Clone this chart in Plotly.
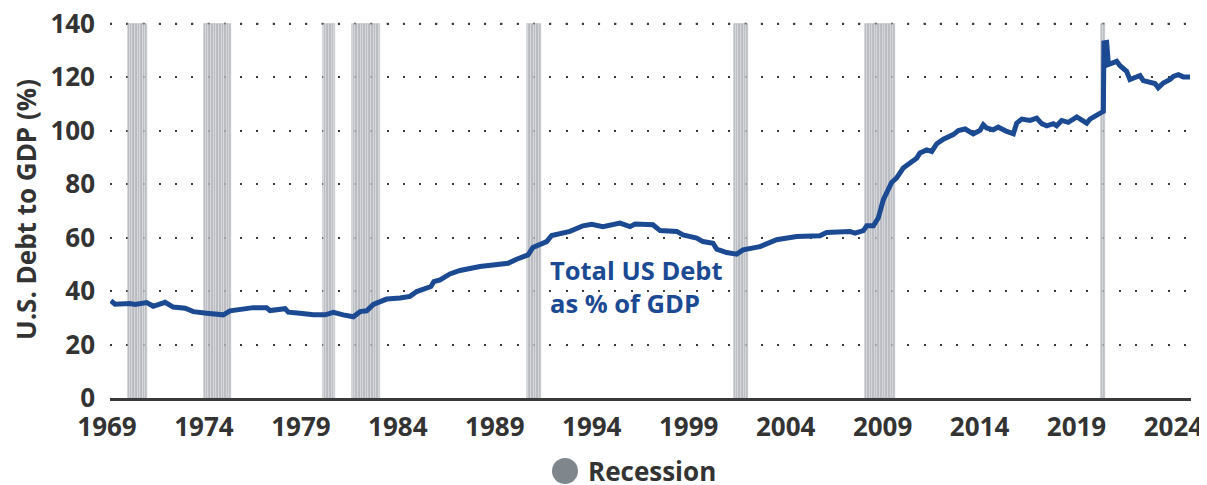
import plotly.graph_objects as go

# ---- data ----
years = [
    1969.04, 1969.26, 1970.03, 1970.29, 1970.89, 1971.23, 1971.84, 1972.26, 1972.87, 1973.30,
    1973.99, 1974.50, 1974.84, 1975.19, 1975.70, 1976.39, 1977.08, 1977.25, 1978.03, 1978.20,
    1978.80, 1979.49, 1980.09, 1980.52, 1981.03, 1981.55, 1981.90, 1982.24, 1982.58, 1983.27,
    1983.96, 1984.47, 1984.82, 1985.55, 1985.70, 1986.02, 1986.53, 1987.05, 1988.08, 1988.60,
    1989.53, 1989.97, 1990.56, 1990.81, 1991.18, 1991.52, 1991.78, 1992.72, 1993.39, 1993.84,
    1994.42, 1995.30, 1995.82, 1996.08, 1997.00, 1997.37, 1998.23, 1998.55, 1999.26, 1999.58,
    2000.10, 2000.29, 2000.80, 2001.32, 2001.65, 2002.52, 2003.38, 2004.41, 2005.61, 2005.96,
    2007.16, 2007.42, 2007.85, 2008.03, 2008.37, 2008.62, 2008.88, 2009.06, 2009.31, 2009.57,
    2009.91, 2010.26, 2010.60, 2010.77, 2011.12, 2011.38, 2011.64, 2011.98, 2012.49, 2012.75,
    2013.10, 2013.52, 2013.87, 2014.04, 2014.21, 2014.55, 2014.81, 2015.25, 2015.59, 2015.76,
    2016.02, 2016.45, 2016.79, 2017.05, 2017.31, 2017.65, 2017.82, 2018.08, 2018.42, 2018.86,
    2019.20, 2019.37, 2019.54, 2019.89, 2020.23, 2020.26, 2020.40, 2020.49, 2020.74, 2020.92,
    2021.09, 2021.43, 2021.60, 2021.95, 2022.12, 2022.29, 2022.64, 2022.89, 2023.06, 2023.32,
    2023.67, 2023.84, 2024.10, 2024.35, 2024.70,
]
debt_to_gdp = [
    36.4, 35.1, 35.3, 35.0, 35.7, 34.3, 35.8, 34.0, 33.6, 32.3,
    31.7, 31.1, 31.1, 32.6, 33.0, 33.8, 33.8, 32.7, 33.4, 32.1,
    31.7, 31.1, 31.1, 32.0, 31.1, 30.4, 32.3, 32.6, 35.0, 37.0,
    37.4, 38.0, 39.8, 41.7, 43.5, 44.2, 46.4, 47.7, 49.2, 49.5,
    50.4, 51.9, 53.5, 56.3, 57.5, 58.5, 60.8, 62.3, 64.4, 65.0,
    64.1, 65.4, 64.1, 65.1, 64.8, 62.6, 62.3, 61.0, 59.8, 58.5,
    57.9, 55.7, 54.4, 53.8, 55.4, 56.6, 59.2, 60.4, 60.7, 61.9,
    62.3, 61.7, 62.6, 64.4, 64.4, 67.3, 74.1, 77.2, 80.6, 82.3,
    86.0, 87.9, 89.7, 91.6, 92.8, 92.2, 95.1, 96.8, 98.5, 100.0,
    100.6, 98.8, 100.1, 102.2, 101.0, 100.3, 101.3, 99.7, 98.8, 102.8,
    104.3, 103.8, 104.7, 102.6, 101.8, 102.6, 101.8, 103.8, 103.1, 105.1,
    103.8, 102.8, 104.3, 105.9, 107.2, 132.8, 133.0, 124.7, 125.3, 125.9,
    124.3, 122.2, 119.1, 120.1, 120.6, 118.7, 117.8, 117.6, 116.0, 117.8,
    119.1, 120.3, 120.9, 120.1, 120.1,
]

# NBER recessions (first month, last month)
recession_starts = ["1969-12", "1973-11", "1980-01", "1981-07", "1990-07", "2001-03", "2007-12", "2020-02"]
recession_ends = ["1970-11", "1975-03", "1980-07", "1982-11", "1991-03", "2001-11", "2009-06", "2020-04"]

tick_years = [1969, 1974, 1979, 1984, 1989, 1994, 1999, 2004, 2009, 2014, 2019, 2024]
tick_labels = [str(y) for y in tick_years]
y_ticks = [0, 20, 40, 60, 80, 100, 120, 140]

series_label = "Total US Debt<br>as % of GDP"
legend_label = "Recession"
y_title = "U.S. Debt to GDP (%)"

# ---- styling ----
LINE_COLOR = "#1b4a93"
TEXT_COLOR = "#333333"
GRID_COLOR = "#3c3c3c"
GRID_DASH = "2px,14.27px"
FONT = "Open Sans"
BAR_TOP = 140
Y_RANGE_TOP = 141

# expand recessions to monthly bars
rec_x = []
for s, e in zip(recession_starts, recession_ends):
    sy, sm = map(int, s.split("-"))
    ey, em = map(int, e.split("-"))
    y, m = sy, sm
    while (y, m) <= (ey, em):
        rec_x.append(y + (m - 1) / 12 + 1 / 24)
        m += 1
        if m > 12:
            m = 1
            y += 1
rec_y = [BAR_TOP] * len(rec_x)

fig = go.Figure()
fig.add_trace(go.Bar(
    x=rec_x, y=rec_y, width=1 / 12,
    marker=dict(color="#d3d7da", line=dict(color="#9fa5aa", width=0.6), opacity=0.8),
    showlegend=False, hoverinfo="skip", name=legend_label,
))
fig.add_trace(go.Scatter(
    x=years, y=debt_to_gdp, mode="lines",
    line=dict(color=LINE_COLOR, width=5),
    showlegend=False, name="Total US Debt as % of GDP",
))

# page body has an 8px margin, so the figure is 8px smaller than the window
fig.update_layout(
    width=1199, height=477,
    margin=dict(l=102, r=16, t=13, b=87, autoexpand=False),
    paper_bgcolor="white", plot_bgcolor="white",
    font=dict(family=FONT, color=TEXT_COLOR, size=26, weight="bold"),
    bargap=0,
    showlegend=False,
)
fig.update_xaxes(
    range=[1969.0, 2024.75], automargin=False,
    tickmode="array", tickvals=tick_years, ticktext=tick_labels,
    showgrid=False, zeroline=False,
    showline=True, linecolor="#3a3a3a", linewidth=2.5,
    ticks="", ticklabelstandoff=4, ticklabelshift=-3, ticklabeloverflow="allow",
    tickfont=dict(family=FONT, size=26, color=TEXT_COLOR, weight="bold"),
)
fig.update_yaxes(
    range=[0, Y_RANGE_TOP], automargin=False,
    tickmode="array", tickvals=y_ticks,
    showgrid=True, gridcolor=GRID_COLOR, gridwidth=2, griddash=GRID_DASH,
    zeroline=False, showline=False, ticks="", ticklabelstandoff=14,
    ticklabeloverflow="allow",
    tickfont=dict(family=FONT, size=26, color=TEXT_COLOR, weight="bold"),
    title=dict(text=y_title, standoff=10,
               font=dict(family=FONT, size=26, color=TEXT_COLOR, weight="bold")),
)

# top dotted gridline (Plotly omits the one at the top value)
fig.add_shape(
    type="line", xref="paper", yref="y", x0=0, x1=1, y0=y_ticks[-1], y1=y_ticks[-1],
    line=dict(color=GRID_COLOR, width=2, dash=GRID_DASH), layer="below",
)

# series label
fig.add_annotation(
    x=1991.6, y=41.6, xref="x", yref="y",
    text=series_label, showarrow=False, xanchor="left", yanchor="middle", align="left",
    font=dict(family=FONT, size=25.5, color=LINE_COLOR, weight="bold"),
)

# custom legend: grey circle + label
lx, ly = 0.4209, -0.1936
fig.add_shape(
    type="circle", xref="paper", yref="paper",
    xsizemode="pixel", ysizemode="pixel", xanchor=lx, yanchor=ly,
    x0=-13, x1=13, y0=-13, y1=13,
    fillcolor="#7f878d", line=dict(width=0),
)
fig.add_annotation(
    x=0.4413, y=ly, xref="paper", yref="paper",
    text=legend_label, showarrow=False, xanchor="left", yanchor="middle",
    borderpad=0,
    font=dict(family=FONT, size=26, color=TEXT_COLOR, weight="bold"),
)

fig.write_html("out.html")
